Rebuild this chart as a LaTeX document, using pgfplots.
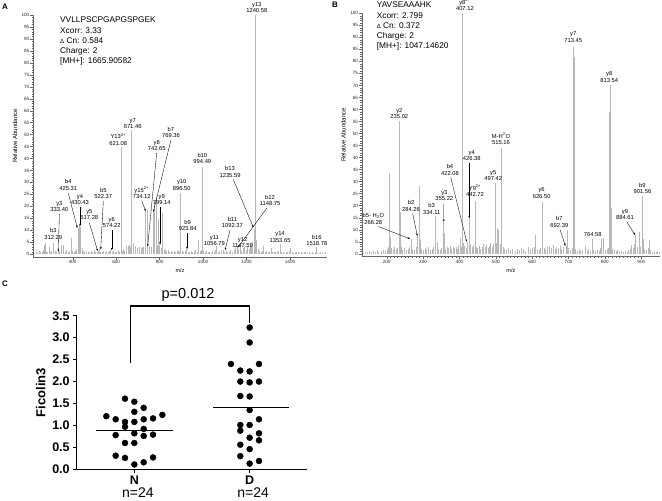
\documentclass[border=0pt]{standalone}
\usepackage{fontspec}
\setmainfont{Liberation Sans}
\usepackage{pgfplots}
\pgfplotsset{compat=1.18}
\usetikzlibrary{arrows.meta}
\tikzset{
  lbl/.style={font=\fontsize{5.8}{6.5}\selectfont, align=center, anchor=south, inner sep=0.3pt},
  arr/.style={-{Stealth[length=2.4pt,width=1.8pt]}, line width=0.35pt, black}
}
\pgfplotsset{
 spec/.style={
  scale only axis, anchor=south west, clip=false,
  axis x line*=bottom, axis y line*=left,
  axis line style={draw=gray!80!black, line width=0.4pt, -},
  tick align=outside, major tick length=2.5pt, minor tick length=1.3pt,
  tick style={gray!80!black, line width=0.3pt},
  minor y tick num=4,
  ymin=-1.2, ymax=100,
  ytick={0,5,...,100},
  scaled ticks=false,
  tick label style={font=\fontsize{4.6}{5}\selectfont, color=black!85, inner sep=1pt},
  /pgf/number format/assume math mode=true,
  /pgf/number format/1000 sep={},
  ylabel={Relative Abundance}, ylabel style={font=\fontsize{6}{7}\selectfont},
  xlabel={m/z}, xlabel style={font=\fontsize{5.5}{6}\selectfont},
 },
 peaks/.style={ycomb, draw=black!28, line width=0.45pt, mark=none}
}
\begin{document}
\begin{tikzpicture}
% ---------------- Panel A ----------------
\begin{axis}[spec, at={(33pt,-257pt)}, width=294pt, height=242pt,
  xmin=217.5, xmax=1570, xtick={400,600,...,1400}, minor x tick num=9]
\addplot[peaks] coordinates {
(224,0.6)(231,1.0)(238,0.5)(246,1.3)(252,0.7)(259,0.9)(265,1.6)(269.6,4.0)(273,4.5)(279,1.1)(285,0.7)(291,2.8)(297,0.9)(303,1.4)
(312.3,4.5)(318,1.2)(325,0.8)(333.4,1.0)(340,1.5)(349.5,3.9)(357,3.7)(364,1.0)(371,1.8)(378,0.8)(385,1.2)(392,6.8)(398,1.5)
(405,0.9)(412,1.4)(418,2.0)(425.3,11.0)(429,11.4)(430.4,12.0)(437,11.2)(442,2.5)(448,1.2)(455,0.8)(462,1.5)(470,1.0)(478,0.7)
(485,1.3)(492,0.9)(499,1.6)(506,0.8)(512,1.1)(517.3,1.3)(522.4,2.0)(528,1.0)(535,0.7)(542,1.4)(549,0.9)(556,1.2)(563,0.8)
(569,1.5)(574.2,1.8)(581,0.9)(588,1.3)(595,0.7)(601,1.1)(608,1.6)(614,1.0)(621.1,45)(627,1.4)(633,2.0)(639,1.2)(645,2.6)
(648,3.5)(655,3.3)(658,4.0)(666,3.0)(668,45)(671.5,52)(678,4.5)(686,2.2)(690,3.4)
(698,2.7)(706,3.1)(714,2.4)(718,2.8)(726,3.0)(734.1,18)(741,18.4)(742.7,3.3)
(750,2.9)(754,3.6)(762,3.0)(769.4,17.7)(774,21.9)(783,24)(787,3.5)(794,14.5)
(799.1,4.0)(808,2.5)(814,17.2)(822,2.2)(827,1.8)(832,1.4)(838,1.9)(845,1.0)(852,1.5)(858,0.9)(865,1.3)
(872,0.8)(879,1.2)(885,1.7)(891,1.0)(896.5,25.5)(903,1.4)(910,0.9)(917,1.3)(923.8,2.1)(930,1.0)(937,0.8)(944,1.5)(951,0.9)
(958,1.2)(965,1.8)(972,1.0)(978,5.9)(985,1.3)(990,1.8)(994.5,36.5)(1001,1.5)(1008,0.8)(1015,1.2)(1022,0.7)(1029,1.0)
(1036,0.6)(1043,1.3)(1050,0.9)(1056.8,1.8)(1062,3.2)(1069,1.0)(1076,0.7)(1083,1.2)(1092.4,1.7)(1099,0.9)(1106,1.3)(1113,0.8)
(1120,1.1)(1127,1.6)(1134,1.0)(1141,1.9)(1147.6,2.5)(1148.8,2.8)(1155,3.4)(1162,2.0)(1169,2.8)(1176,1.5)(1183,2.4)(1190,3.0)
(1197,1.8)(1204,3.6)(1210,2.2)(1216,4.2)(1222,3.0)(1228,5.0)(1235.6,10.5)(1240.6,100)(1246,6.0)(1252,2.0)(1259,1.2)(1266,0.8)
(1273,1.4)(1277,3.5)(1284,0.9)(1291,1.2)(1298,0.7)(1305,1.0)(1312,2.4)(1319,0.8)(1326,1.1)(1333,0.7)(1340,0.9)(1346,1.3)
(1353.7,4.2)(1360,0.8)(1367,1.0)(1374,0.6)(1381,0.9)(1388,0.7)(1395,1.2)(1402,2.5)(1409,0.8)(1416,0.6)(1423,1.0)(1430,0.7)
(1437,0.9)(1444,0.5)(1451,0.8)(1458,0.6)(1465,1.0)(1472,0.7)(1479,0.5)(1486,0.9)(1493,0.6)(1500,0.8)(1507,0.5)(1514,0.9)
(1518.8,2.8)(1526,0.6)(1533,0.5)(1540,0.8)(1547,0.6)(1554,0.5)(1561,0.7)
};
\node[lbl] at (axis cs:1247,100.8) {y13\\1240.58};
\node[lbl] at (axis cs:676,52.3) {y7\\671.46};
\node[lbl] at (axis cs:610,45.2) {Y13\textsuperscript{2+}\\621.08};
\node[lbl] at (axis cs:852,48.5) {b7\\769.36}; \draw[arr] (axis cs:852,47.7) -- (axis cs:771,17.7);
\node[lbl] at (axis cs:786.5,43.1) {y8\\742.65}; \draw[arr] (axis cs:786.5,42.3) -- (axis cs:745,3.3);
\node[lbl] at (axis cs:809.6,20.5) {y9\\799.14}; \draw[arr] (axis cs:802,19.8) -- (axis cs:802,4);
\node[lbl] at (axis cs:717.5,23) {y15\textsuperscript{2+}\\734.12}; \draw[arr] (axis cs:717.5,22.3) -- (axis cs:736,18);
\node[lbl] at (axis cs:901.6,26.5) {y10\\896.50};
\node[lbl] at (axis cs:996.6,37.5) {b10\\994.49};
\node[lbl] at (axis cs:929,9.6) {b9\\923.84}; \draw[arr] (axis cs:926,8.8) -- (axis cs:926,2.1);
\node[lbl] at (axis cs:1134.8,10.7) {b11\\1092.37}; \draw[arr] (axis cs:1124,10) -- (axis cs:1101,1.7);
\node[lbl] at (axis cs:1052,3.3) {y11\\1056.79};
\node[lbl] at (axis cs:1182,2.5) {y12\\1147.59};
\node[lbl] at (axis cs:1308,20) {b12\\1148.75}; \draw[arr] (axis cs:1293,19.2) -- (axis cs:1160,2.8);
\node[lbl] at (axis cs:1124,32) {b13\\1235.59}; \draw[arr] (axis cs:1139,31.2) -- (axis cs:1231,11.2);
\node[lbl] at (axis cs:1354,4.8) {y14\\1353.65};
\node[lbl] at (axis cs:1523,3.2) {b16\\1518.78};
\node[lbl] at (axis cs:311,6) {b3\\312.29};
\node[lbl] at (axis cs:338.7,17.4) {y3\\333.40}; \draw[arr] (axis cs:338.7,16.7) -- (axis cs:334,1);
\node[lbl] at (axis cs:380,26.4) {b4\\425.31}; \draw[arr] (axis cs:380,25.4) -- (axis cs:421.4,11);
\node[lbl] at (axis cs:434,20.5) {y4\\430.43}; \draw[arr] (axis cs:434,19.8) -- (axis cs:434,11.7);
\node[lbl] at (axis cs:476.7,14.2) {y5\\517.28}; \draw[arr] (axis cs:476.7,13.1) -- (axis cs:515,1.3);
\node[lbl] at (axis cs:541,23) {b5\\522.37}; \draw[arr] (axis cs:541,22.3) -- (axis cs:529,2);
\node[lbl] at (axis cs:579.5,10.7) {y6\\574.22}; \draw[arr] (axis cs:579.5,10) -- (axis cs:579.5,1.7);
\end{axis}
\node[anchor=north west, align=left, inner sep=0pt, font=\fontsize{8.3}{10.2}\selectfont] at (60pt,-17pt)
 {VVLLPSCPGAPGSPGEK\\Xcorr: 3.33\\{\fontsize{6}{6}\selectfont Δ} Cn: 0.584\\Charge: 2\\{[MH+]}: 1665.90582};
% ---------------- Panel B ----------------
\begin{axis}[spec, at={(361.7pt,-256.6pt)}, width=298.3pt, height=243.3pt,
  xmin=131.3, xmax=951.4, xtick={200,300,...,900}, minor x tick num=9]
\addplot[peaks] coordinates {
(135,0.5)(141,0.8)(147,0.6)(153,1.0)(158,0.7)(163,1.2)(168,0.9)(173,1.5)(178,0.8)(185,1.1)(190.8,1.5)(196,1.0)(201,2.0)
(205,2.8)(207,33.6)(209.5,7)(213,2.2)(218,1.5)(222,2.6)(226,1.8)(230,2.4)(235.0,55)(236.5,17.5)(240,3.0)(244,1.6)(249,2.2)
(253,1.4)(258,2.0)(262,2.8)(266.3,6.2)(270,2.0)(275,1.5)(280,3.0)(284.3,7.4)(289.7,28)(292,5.7)(296,2.0)(300,1.5)(305,2.4)
(310,1.8)(315,2.6)(320,1.5)(325,2.0)(329,3.0)(334.1,15.8)(339,5.0)(343,2.0)(347,1.6)(351,2.5)(355.2,13.3)(358.4,8.5)(362,2.0)
(366,3.0)(370,2.2)(374,3.4)(378,2.0)(382,3.0)(386,2.4)(390,2.8)(394,1.8)(398,3.5)(401.5,6.4)(404,3.0)(407.1,100)(410.6,4.5)
(414,3.2)(418,2.4)(422.1,5.0)(426.4,14.8)(430,4.0)(434,2.6)(438,3.6)(442.7,22)(446,3.0)(450,2.2)(454,3.4)(458,2.0)(462,3.0)
(466,4.0)(470,2.6)(474,3.8)(478,2.4)(482,3.2)(486,4.4)(490,2.8)(494,4.0)(497.4,29.5)(500,4.5)(503.3,10.6)(507,10)(511,4.0)
(515.2,44)(519,3.0)(524,2.0)(529,1.5)(535,2.2)(540,1.4)(546,1.8)(552,1.2)(558,2.0)(564,1.4)(570,2.4)(576,1.8)(582,1.2)
(588,2.6)(594,1.8)(600,2.5)(605,3.0)(609.5,7.8)(614,2.0)(619,1.5)(623,2.4)(626.5,21.6)(628,14.8)(632,2.5)(637,1.8)(642,2.8)
(647,3.2)(652,2.2)(657,3.6)(662,2.0)(667,3.0)(672,2.4)(677,3.4)(681,2.0)(686,2.8)(692.4,3.2)(696.6,10)(700,2.5)(705,1.6)
(710,2.4)(713.5,86)(714.7,82)(718,2.0)(723,1.2)(728,1.8)(733,1.0)(738,1.5)(745,3.2)(750,1.2)(755,1.8)(760,1.0)(764.6,6)
(769,1.4)(774,1.0)(779,1.6)(784,1.0)(788,2.4)(791,6)(795.6,6.4)(800,1.4)(805,1.8)(809,2.2)(812.5,59)(813.5,70)(816,19)
(820,2.0)(825,1.4)(830,1.0)(835,1.6)(840,1.0)(845,1.3)(850,0.8)(855,1.2)(860,0.9)(865,1.4)(870,2.0)(873.4,3.6)(877,2.4)
(880,4.0)(884.6,7.8)(888,3.0)(893.7,9)(897,3.0)(901.6,24)(905,6)(909,2.0)(914,1.5)(918,2.4)(921,5.7)(925,1.4)(930,0.9)
(935,1.2)(940,0.7)(945,1.0)(950,0.6)
};
\node[lbl] at (axis cs:415,100.8) {y8\textsuperscript{2+}\\407.12};
\node[lbl] at (axis cs:713,87.7) {y7\\713.45};
\node[lbl] at (axis cs:812,71) {y8\\813.54};
\node[lbl] at (axis cs:234.8,56) {y2\\235.02};
\node[lbl] at (axis cs:514.3,45) {M-H\textsuperscript{2}O\\515.16};
\node[lbl] at (axis cs:374,32.5) {b4\\422.08}; \draw[arr] (axis cs:376,31.8) -- (axis cs:420,5);
\node[lbl] at (axis cs:433.7,38.5) {y4\\426.38}; \draw[arr] (axis cs:427,37.8) -- (axis cs:427,14.8);
\node[lbl] at (axis cs:493,30.2) {y5\\497.42};
\node[lbl] at (axis cs:442.8,23.5) {Y9\textsuperscript{2+}\\442.72};
\node[lbl] at (axis cs:358.5,21.8) {y3\\355.22}; \draw[arr] (axis cs:357,20.8) -- (axis cs:356.7,13.3);
\node[lbl] at (axis cs:323.7,16.2) {b3\\334.11};
\node[lbl] at (axis cs:266.9,17.4) {b2\\284.26}; \draw[arr] (axis cs:271.5,16.7) -- (axis cs:284.3,7.4);
\node[lbl] at (axis cs:163.3,12) {b5- H\textsubscript{2}O\\266.28}; \draw[arr] (axis cs:177,11.3) -- (axis cs:264,6.2);
\node[lbl] at (axis cs:626,22.8) {y6\\626.50};
\node[lbl] at (axis cs:674.7,10.7) {b7\\692.39}; \draw[arr] (axis cs:676.6,10) -- (axis cs:691.3,3.2);
\node[lbl] at (axis cs:766.4,6.8) {764.58};
\node[lbl] at (axis cs:855.3,14) {y9\\884.61}; \draw[arr] (axis cs:860,13.3) -- (axis cs:882.8,7.8);
\node[lbl] at (axis cs:903,24.8) {b9\\901.56};
\end{axis}
\node[anchor=north west, align=left, inner sep=0pt, font=\fontsize{8.3}{10.2}\selectfont] at (376.7pt,-2pt)
 {YAVSEAAAHK\\Xcorr: 2.799\\{\fontsize{6}{6}\selectfont Δ} Cn: 0.372\\Charge: 2\\{[MH+]}: 1047.14620};
% ---------------- Panel C ----------------
\begin{axis}[at={(76.7pt,-469.3pt)}, anchor=south west, scale only axis,
  width=230.6pt, height=153.6pt, xmin=0.5, xmax=2.5, ymin=0, ymax=3.5, clip=false,
  axis x line*=bottom, axis y line*=left, axis line style={line width=1.3pt, -},
  tick style={line width=1.2pt, black}, tick align=outside, major tick length=3.5pt,
  xtick={1,2}, xticklabels={N,D}, ytick={0,0.5,...,3.5},
  yticklabel style={/pgf/number format/fixed, /pgf/number format/fixed zerofill, /pgf/number format/precision=1},
  /pgf/number format/assume math mode=true,
  tick label style={font=\bfseries\fontsize{12.5}{13}\selectfont},
  ylabel={Ficolin3}, ylabel style={font=\bfseries\fontsize{13}{14}\selectfont}]
\addplot[only marks, mark=*, mark size=3pt, black] coordinates {
(0.919,1.61)(1.0,1.54)(1.0,1.31)(1.081,1.40)(0.757,1.21)(0.838,1.14)(0.919,1.08)(1.0,1.08)(1.081,1.14)(1.162,1.16)
(1.243,1.24)(0.919,0.97)(1.081,0.92)(0.838,0.78)(1.0,0.82)(1.081,0.76)(1.162,0.79)(0.919,0.60)(1.0,0.60)(0.838,0.31)
(0.919,0.26)(1.162,0.27)(1.081,0.16)(1.0,0.11)
};
\addplot[only marks, mark=*, mark size=3pt, black] coordinates {
(2.0,3.23)(2.0,2.89)(1.838,2.40)(2.081,2.40)(1.919,2.25)(2.0,2.23)(1.919,2.00)(2.0,1.98)(2.081,2.00)(1.919,1.67)
(2.0,1.66)(2.0,1.35)(2.081,1.14)(1.919,1.01)(2.0,1.01)(1.919,0.88)(2.081,0.82)(2.0,0.72)(2.081,0.66)(1.919,0.56)
(2.0,0.46)(1.919,0.30)(2.081,0.19)(2.0,0.13)
};
\addplot[black, line width=1.3pt] coordinates {(0.668,0.885)(1.338,0.885)};
\addplot[black, line width=1.3pt] coordinates {(1.685,1.41)(2.344,1.41)};
\draw[line width=1.4pt] (axis cs:0.965,2.43) -- (axis cs:0.965,3.72) -- (axis cs:2.0,3.72) -- (axis cs:2.0,3.33);
\node[font=\fontsize{14.5}{15}\selectfont] at (axis cs:1.466,3.97) {p=0.012};
\node[font=\fontsize{14}{15}\selectfont] at (axis cs:1.03,-0.54) {n=24};
\node[font=\fontsize{14}{15}\selectfont] at (axis cs:2.03,-0.54) {n=24};
\end{axis}
% panel letters
\node[anchor=north west, inner sep=0pt, font=\bfseries\fontsize{8}{8}\selectfont] at (2pt,-3.5pt) {A};
\node[anchor=north west, inner sep=0pt, font=\bfseries\fontsize{8}{8}\selectfont] at (332pt,-2pt) {B};
\node[anchor=north west, inner sep=0pt, font=\bfseries\fontsize{8}{8}\selectfont] at (2pt,-280.5pt) {C};
\pgfresetboundingbox
\path[use as bounding box] (0pt,0pt) rectangle (662pt,-501pt);
\end{tikzpicture}
\end{document}
